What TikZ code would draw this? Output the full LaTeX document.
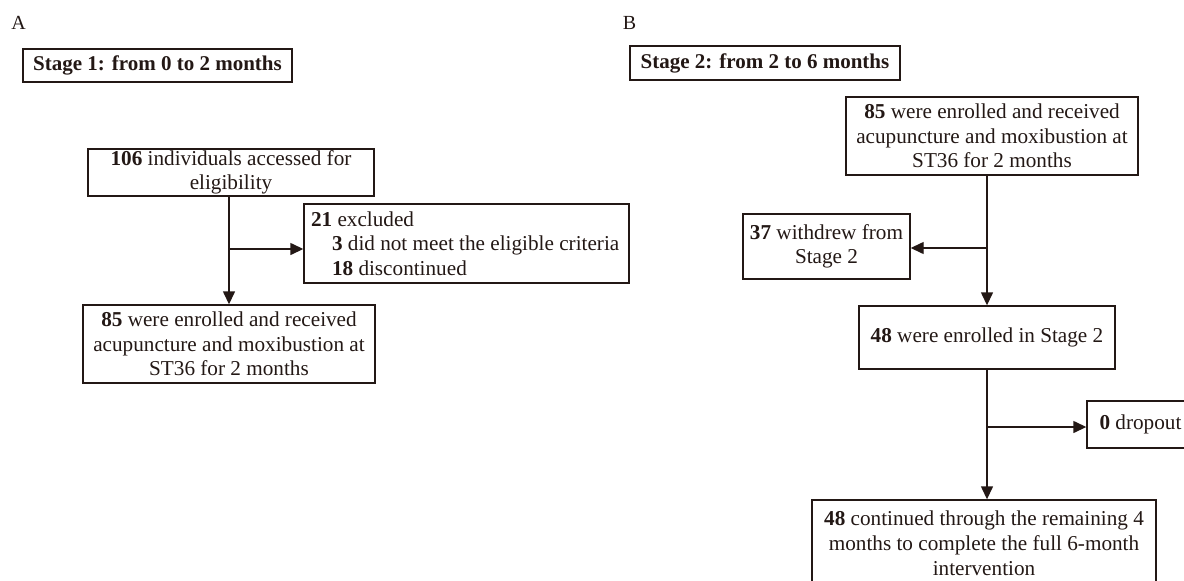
\documentclass[tikz,border=0pt]{standalone}
\usepackage{fontspec}
\setmainfont{Liberation Serif}
\usetikzlibrary{arrows.meta}
\definecolor{ink}{RGB}{35,24,21}
\tikzset{
  box/.style={draw=ink, line width=1.4pt, align=center, inner sep=0pt,
    font=\fontsize{21.2}{24.5}\selectfont, text=ink},
  panel/.style={font=\fontsize{20}{24}\selectfont, text=ink, inner sep=0pt},
  arr/.style={draw=ink, line width=1.4pt, -{Triangle[length=13pt,width=12pt]}},
  ln/.style={draw=ink, line width=1.4pt}
}
\begin{document}
\begin{tikzpicture}[x=1pt,y=-1pt]
\useasboundingbox (0,0) rectangle (1184,581);
\clip (0,0) rectangle (1184,581);
\fill[white] (0,0) rectangle (1184,581);

% Panel A
\node[panel] (la) at (18.5,22.5) {A};
\node[box, minimum width=269, minimum height=33, font=\fontsize{21}{24.5}\selectfont\bfseries] (s1) at (157.5,65.5) {Stage 1: from 0 to 2 months};
\node[box, minimum width=286, minimum height=47] (b106) at (231,172.5) {\textbf{106} individuals accessed for\\eligibility};
\node[box, minimum width=325, minimum height=79, align=left] (b21) at (466.5,243.5) {\makebox[311pt][l]{\textbf{21} excluded}\\\makebox[311pt][l]{\hspace*{21pt}\textbf{3} did not meet the eligible criteria}\\\makebox[311pt][l]{\hspace*{21pt}\textbf{18} discontinued}};
\node[box, minimum width=292, minimum height=78] (b85l) at (229,344) {\textbf{85} were enrolled and received\\acupuncture and moxibustion at\\ST36 for 2 months};
\coordinate (j1) at (229,249);
\draw[arr] (b106.south -| b85l.north) -- (b85l.north);
\draw[arr] (j1) -- (j1 -| b21.west);

% Panel B
\node[panel] (lb) at (629.5,22.5) {B};
\node[box, minimum width=270, minimum height=34, font=\fontsize{21}{24.5}\selectfont\bfseries] (s2) at (765,63) {Stage 2: from 2 to 6 months};
\node[box, minimum width=292, minimum height=78] (b85r) at (992,136) {\textbf{85} were enrolled and received\\acupuncture and moxibustion at\\ST36 for 2 months};
\node[box, minimum width=167, minimum height=65] (b37) at (826.5,246.5) {\textbf{37} withdrew from\\Stage 2};
\node[box, minimum width=256, minimum height=63] (b48) at (987,337.5) {\textbf{48} were enrolled in Stage 2};
\node[box, minimum width=107, minimum height=47] (b0) at (1140.5,424.5) {\textbf{0} dropout};
\node[box, minimum width=344, minimum height=86, font=\fontsize{21.2}{25}\selectfont] (bend) at (984,543) {\textbf{48} continued through the remaining 4\\months to complete the full 6-month\\intervention};
\coordinate (j2) at (987,248);
\coordinate (j3) at (987,427);
\draw[arr] (b85r.south -| b48.north) -- (b48.north);
\draw[arr] (j2) -- (j2 -| b37.east);
\draw[arr] (b48.south) -- (b48.south |- bend.north);
\draw[arr] (j3) -- (j3 -| b0.west);
\end{tikzpicture}
\end{document}
